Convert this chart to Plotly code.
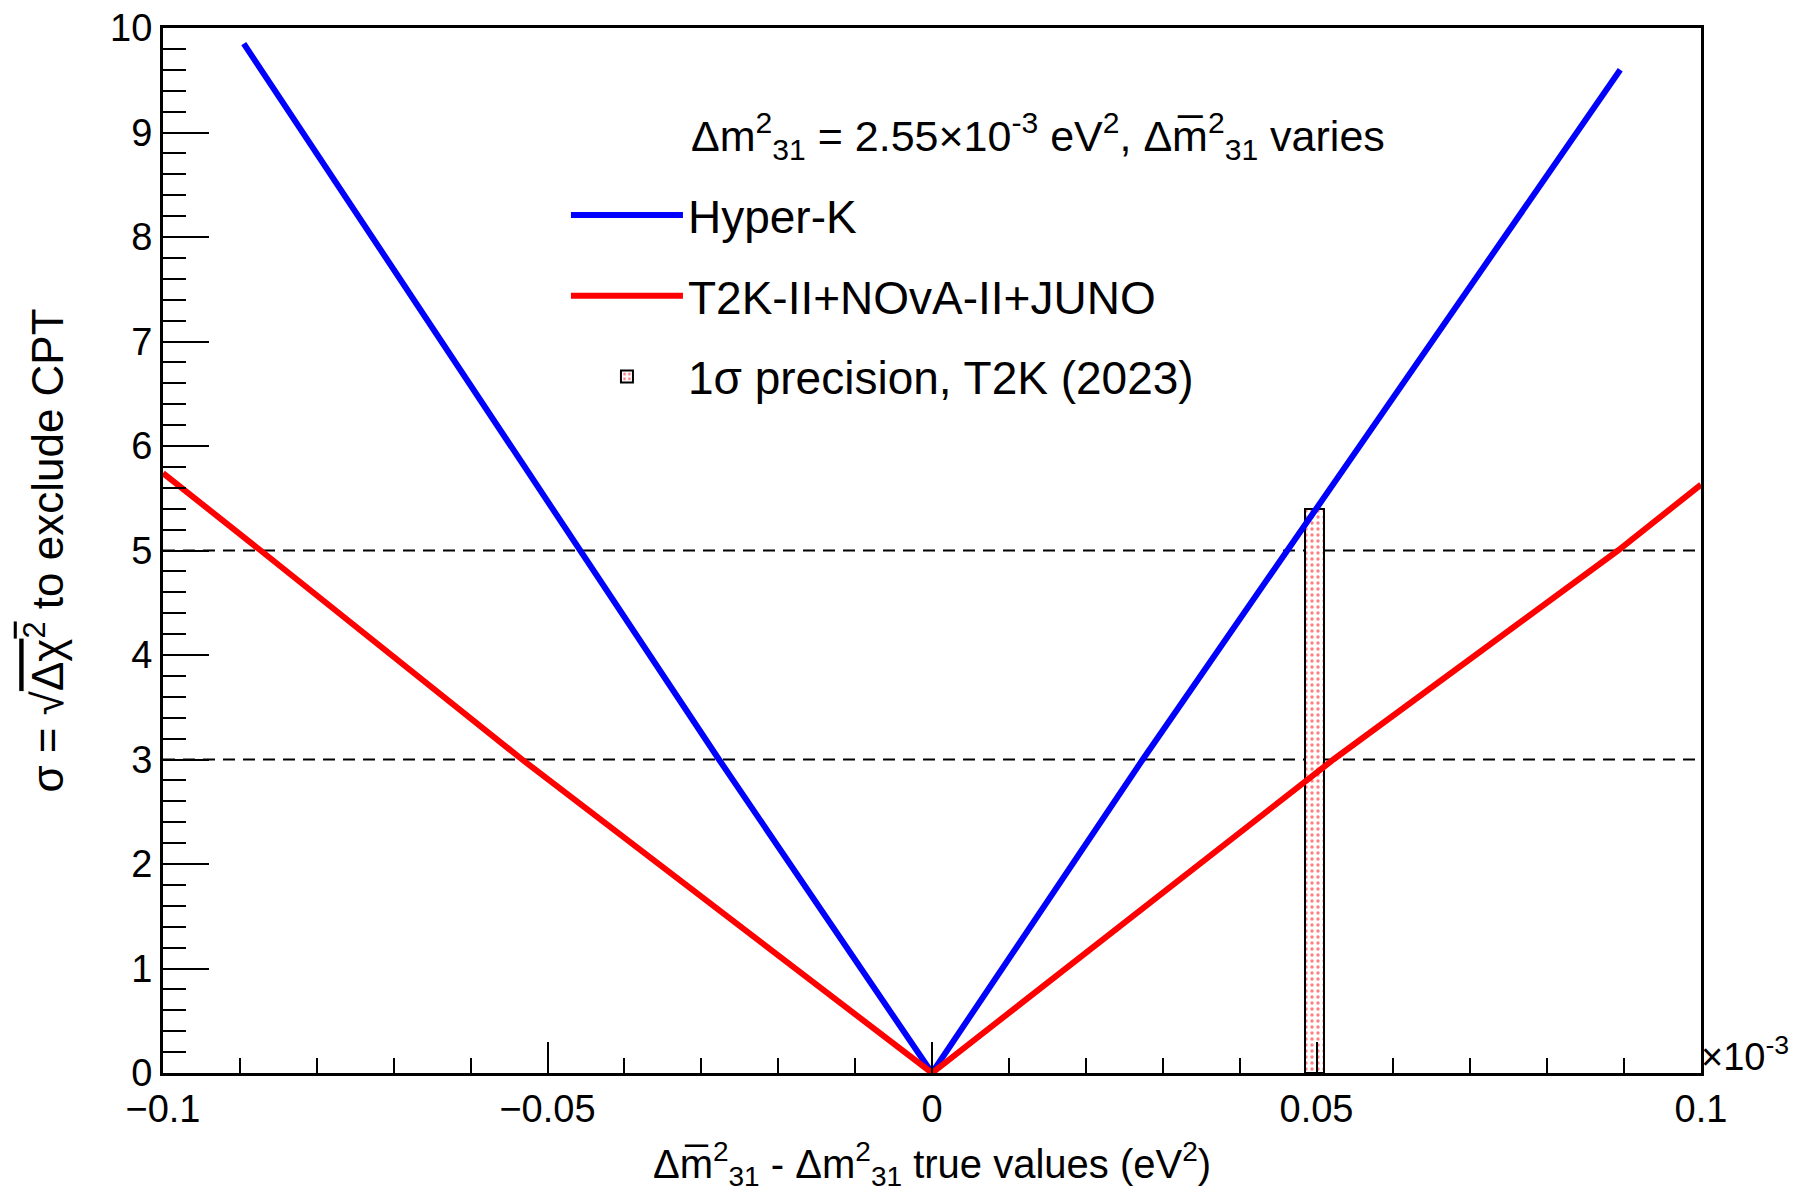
import plotly.graph_objects as go

# ---- data (x in units of 1e-3 eV^2) ----
dm_hk = [-0.0895, -0.0456, -0.0277, 0.0, 0.0274, 0.0462, 0.0895]
sig_hk = [9.85, 5.0, 3.0, 0.0, 3.0, 5.0, 9.6]

dm_t2k2 = [-0.1, -0.0873, -0.0533, 0.0, 0.0522, 0.0892, 0.1]
sig_t2k2 = [5.74, 5.0, 3.0, 0.0, 3.0, 5.0, 5.63]

t2k_center = [0.04975]
t2k_width = [0.0025]
t2k_height = [5.4]

sigma_levels = [3, 5]

x_ticks = [-0.1, -0.05, 0, 0.05, 0.1]
x_ticklabels = ["\u22120.1", "\u22120.05", "0", "0.05", "0.1"]
y_ticks = list(range(0, 11))

FONT = "Liberation Sans, Arial, Helvetica, sans-serif"

fig = go.Figure()

fig.add_trace(go.Scatter(
    x=dm_hk, y=sig_hk, mode="lines", name="Hyper-K",
    line=dict(color="#0000ff", width=6), legendgroup="a",
))
fig.add_trace(go.Scatter(
    x=dm_t2k2, y=sig_t2k2, mode="lines", name="T2K-II+NOvA-II+JUNO",
    line=dict(color="#ff0000", width=6), legendgroup="b",
))
fig.add_trace(go.Bar(
    x=t2k_center, y=t2k_height, width=t2k_width, base=0,
    name="1\u03c3 precision, T2K (2023)", legendgroup="c",
    marker=dict(color="white",
                line=dict(color="black", width=2),
                pattern=dict(shape=".", fgcolor="#ff0000", bgcolor="white",
                             size=6, solidity=0.25)),
))

for lvl in sigma_levels:
    fig.add_shape(type="line", xref="x", yref="y",
                  x0=x_ticks[0], x1=x_ticks[-1], y0=lvl, y1=lvl,
                  line=dict(color="black", width=2, dash="12px,8px"),
                  layer="below")

fig.add_annotation(
    xref="paper", yref="paper", x=0.342, y=0.8966, xanchor="left", yanchor="middle",
    text="\u0394m<sup>2</sup><sub>31</sub> = 2.55\u00d710<sup>-3</sup> eV<sup>2</sup>, "
         "\u0394m\u0305<sup>2</sup><sub>31</sub> varies",
    showarrow=False, font=dict(size=43, color="black", family=FONT),
)
fig.add_annotation(
    xref="paper", yref="paper", x=0.999, y=0.018, xanchor="left", yanchor="middle",
    text="\u00d710<sup>-3</sup>",
    showarrow=False, font=dict(size=38, color="black", family=FONT),
)

fig.update_layout(
    width=1812, height=1193,
    margin=dict(l=155, r=119, t=20, b=128, autoexpand=False),
    paper_bgcolor="white", plot_bgcolor="white",
    font=dict(family=FONT, color="black", size=38),
    showlegend=True,
    legend=dict(
        x=0.262, y=0.856, xanchor="left", yanchor="top",
        font=dict(size=46, family=FONT),
        bgcolor="rgba(0,0,0,0)", borderwidth=0,
        itemwidth=112, tracegroupgap=18, traceorder="grouped",
    ),
    bargap=0,
)

fig.update_xaxes(
    range=[-0.1, 0.1], tickmode="array", tickvals=x_ticks, ticktext=x_ticklabels,
    ticks="inside", ticklen=31, tickwidth=2, tickcolor="black",
    minor=dict(ticks="inside", dtick=0.01, ticklen=15, tickwidth=2, tickcolor="black", showgrid=False),
    showline=True, linecolor="black", linewidth=3, mirror=True,
    showgrid=False, zeroline=False, automargin=False, ticklabeloverflow="allow",
    tickfont=dict(size=38),
    title=dict(text="\u0394m\u0305<sup>2</sup><sub>31</sub> - \u0394m<sup>2</sup><sub>31</sub> true values (eV<sup>2</sup>)",
               font=dict(size=40), standoff=22),
)
fig.update_yaxes(
    range=[0, 10], tickmode="array", tickvals=y_ticks,
    ticks="inside", ticklen=46, tickwidth=2, tickcolor="black",
    minor=dict(ticks="inside", dtick=0.2, ticklen=23, tickwidth=2, tickcolor="black", showgrid=False),
    showline=True, linecolor="black", linewidth=3, mirror=True,
    showgrid=False, zeroline=False, automargin=False, ticklabeloverflow="allow",
    tickfont=dict(size=38),
    title=dict(text="\u03c3 = \u221a<span style='text-decoration:overline'>\u0394\u03c7<sup>2</sup></span> to exclude CPT",
               font=dict(size=44), standoff=33),
)

fig.write_html("out.html")
